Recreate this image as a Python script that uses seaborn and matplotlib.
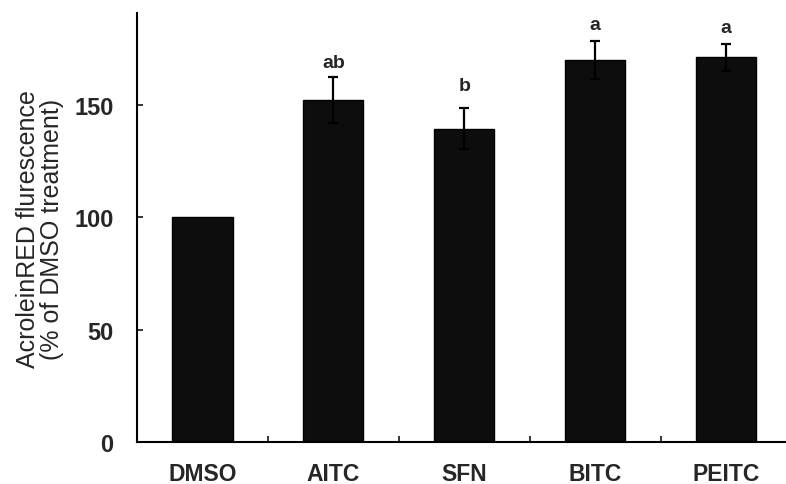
"""AcroleinRED fluorescence bar chart with error bars and significance letters."""

import matplotlib

matplotlib.use("Agg")

import matplotlib.pyplot as plt
import numpy as np
import pandas as pd
import seaborn as sns
from matplotlib.ticker import FixedLocator

treatments = ["DMSO", "AITC", "SFN", "BITC", "PEITC"]
fluorescence = [100.0, 152.3, 139.5, 170.2, 171.3]
sem = [0.0, 10.1, 9.0, 8.4, 6.1]
letters = ["", "ab", "b", "a", "a"]
letter_y = [np.nan, 167.0, 156.5, 184.0, 182.6]
y_ticks = [0, 50, 100, 150]

sns.set_style("white")
plt.rcParams["font.family"] = ["Liberation Sans", "DejaVu Sans"]

df = pd.DataFrame({"treatment": treatments, "value": fluorescence})

fig = plt.figure(figsize=(7.86, 4.85), dpi=100)
ax = fig.add_axes([137 / 786, 42 / 485, 649 / 786, 429 / 485])

sns.barplot(
    data=df,
    x="treatment",
    y="value",
    color="#0d0d0d",
    edgecolor="black",
    linewidth=1.0,
    width=0.46,
    saturation=1,
    errorbar=None,
    ax=ax,
)

pos = np.arange(len(treatments))
has_err = np.array(sem) > 0
ax.errorbar(
    pos[has_err],
    np.array(fluorescence)[has_err],
    yerr=np.array(sem)[has_err],
    fmt="none",
    ecolor="black",
    elinewidth=1.6,
    capsize=3.5,
    capthick=1.6,
)

for i, (lab, ly) in enumerate(zip(letters, letter_y)):
    if lab:
        ax.text(i, ly, lab, ha="center", va="baseline", fontsize=14, fontweight="bold")

ax.set_xlim(-0.5, 4.458)
ax.set_ylim(0, 191)
ax.set_yticks(y_ticks)
ax.set_xlabel("")
ax.set_ylabel("")
fig.text(40 / 786, 1 - 229 / 485, "AcroleinRED flurescence\n(% of DMSO treatment)",
         rotation=90, ha="center", va="center", fontsize=18, linespacing=1.05)

for side in ["top", "right"]:
    ax.spines[side].set_visible(False)
for side in ["left", "bottom"]:
    ax.spines[side].set_linewidth(1.5)
    ax.spines[side].set_color("black")

ax.xaxis.set_minor_locator(FixedLocator([0.5, 1.5, 2.5, 3.5]))
ax.tick_params(axis="x", which="major", length=0, pad=14.5, labelsize=16.5)
ax.tick_params(axis="x", which="minor", direction="in", length=4, width=1.3, bottom=True)
ax.tick_params(axis="y", which="major", direction="in", length=4, width=1.3, left=True, pad=17, labelsize=17)
for lbl in ax.get_xticklabels() + ax.get_yticklabels():
    lbl.set_fontweight("bold")

fig.savefig("out.png", dpi=100)
